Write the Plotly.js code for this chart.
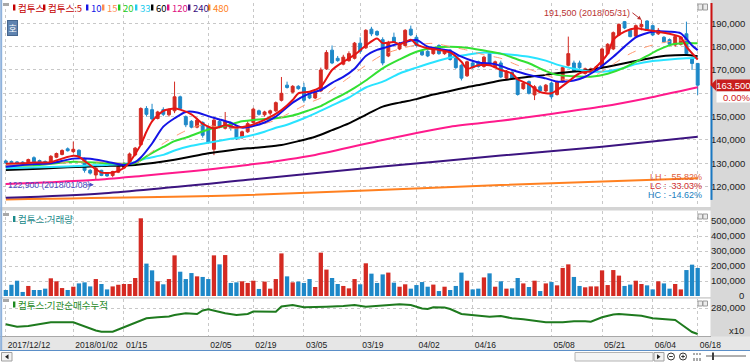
<!DOCTYPE html>
<html><head><meta charset="utf-8">
<script src="https://cdn.plot.ly/plotly-3.0.1.min.js"></script>
<style>html,body{margin:0;padding:0;background:#fff;overflow:hidden}#chart{width:750px;height:362px}</style>
</head><body><div id="chart"></div>
<script>
// ---------------- DATA ----------------
const dates = ['2017-12-12','2017-12-13','2017-12-14','2017-12-15','2017-12-18','2017-12-19','2017-12-20','2017-12-21','2017-12-22','2017-12-26','2017-12-27','2017-12-28',
'2018-01-02','2018-01-03','2018-01-04','2018-01-05','2018-01-08','2018-01-09','2018-01-10','2018-01-11','2018-01-12','2018-01-15','2018-01-16','2018-01-17','2018-01-18','2018-01-19','2018-01-22','2018-01-23','2018-01-24','2018-01-25','2018-01-26','2018-01-29','2018-01-30','2018-01-31',
'2018-02-01','2018-02-02','2018-02-05','2018-02-06','2018-02-07','2018-02-08','2018-02-09','2018-02-12','2018-02-13','2018-02-14','2018-02-19','2018-02-20','2018-02-21','2018-02-22','2018-02-23','2018-02-26','2018-02-27','2018-02-28',
'2018-03-02','2018-03-05','2018-03-06','2018-03-07','2018-03-08','2018-03-09','2018-03-12','2018-03-13','2018-03-14','2018-03-15','2018-03-16','2018-03-19','2018-03-20','2018-03-21','2018-03-22','2018-03-23','2018-03-26','2018-03-27','2018-03-28','2018-03-29','2018-03-30',
'2018-04-02','2018-04-03','2018-04-04','2018-04-05','2018-04-06','2018-04-09','2018-04-10','2018-04-11','2018-04-12','2018-04-13','2018-04-16','2018-04-17','2018-04-18','2018-04-19','2018-04-20','2018-04-23','2018-04-24','2018-04-25','2018-04-26','2018-04-27','2018-04-30',
'2018-05-02','2018-05-03','2018-05-04','2018-05-08','2018-05-09','2018-05-10','2018-05-11','2018-05-14','2018-05-15','2018-05-16','2018-05-17','2018-05-18','2018-05-21','2018-05-23','2018-05-24','2018-05-25','2018-05-28','2018-05-29','2018-05-30','2018-05-31',
'2018-06-01','2018-06-04','2018-06-05','2018-06-07','2018-06-08','2018-06-11','2018-06-12','2018-06-14','2018-06-15','2018-06-18'];

const openP = [131000,130800,130600,130500,130200,132400,131200,130800,130400,132600,
133800,136200,135000,135600,132000,127000,125000,127000,125800,124800,
126200,128000,129500,133600,138000,153500,153000,149200,153000,150800,
152500,158500,150000,148000,145500,147500,145500,136000,148000,145000,
147500,145500,141000,143500,147500,152500,150800,151500,152500,157000,
163500,160500,163000,162500,159500,158000,161000,170500,178500,175000,
172500,174000,175000,181500,179500,187500,186500,183000,176000,184000,
179000,180500,187500,184000,178000,178000,177000,180500,177000,178500,
175000,172000,167500,173000,173500,171500,177000,171400,173000,166500,
169000,166000,162000,165000,159300,162800,161000,164400,159500,165000,
172000,173000,173000,168500,169000,169300,171500,177000,179000,185000,
190700,187000,184500,188500,191000,189000,185500,184000,183000,180700,
181000,185500,175000,172800];
const highP = [131500,131200,131000,130900,132000,133000,131600,131200,133500,134600,
136000,136800,139300,136000,132400,127500,128500,127200,126000,126800,
128800,130500,134600,137000,154000,154500,155500,152500,154000,153500,
165000,159000,150500,148500,149500,148000,146000,149500,148500,152000,
148000,146000,144000,148000,153800,153000,152500,153000,156500,167000,
165000,163500,163500,164500,160000,161000,171000,178500,180500,176000,
176500,178000,182000,184000,187500,188500,187000,184000,182500,186000,
182000,187500,189000,185000,178500,178500,179500,181000,179000,179000,
175500,172500,174000,174000,174000,176000,178000,174000,174000,170000,
169500,166500,165000,165500,163500,163500,164000,165000,165500,171500,
184300,174000,174000,171000,171000,172000,179500,181500,186500,190000,
191000,187500,189500,191500,191300,189500,188000,184500,183500,185000,
184500,190700,175500,173000];
const lowP = [129800,129900,129600,129500,130000,130000,130200,129500,130200,132200,
133400,135000,134400,132500,126000,125200,122900,124500,124200,124000,
125800,127500,129000,133000,137500,150000,148500,148800,150200,150000,
151500,153000,145500,145000,145000,141000,138500,133500,145000,144500,
144000,140000,140500,143000,147000,150500,150000,150500,152000,156500,
162000,160000,161500,156000,157500,157500,160500,170000,172500,173500,
172000,173500,174500,177000,179000,184500,184500,172000,175500,181500,
178500,180000,184500,180000,176000,175500,176500,176500,176500,174000,
170500,165500,167000,170500,171000,171000,172000,171000,166500,166000,
166000,159000,161500,159500,157100,160500,160500,157500,159000,164500,
171500,169000,170500,168000,168500,169000,171000,176500,178500,184500,
187500,184000,184000,187000,187000,184500,185000,181500,180500,180000,
180500,176000,170000,159300];
const closeP = [130300,130200,130100,130000,131600,130600,130500,130000,133000,134200,
135500,135400,136000,133000,127000,125800,127800,124800,124600,126500,
128500,130000,134000,136500,153500,151000,149000,152000,151000,152800,
158500,153500,146500,145500,148500,142000,139000,148500,146000,148000,
145000,140500,143500,147000,153200,151000,152000,152500,156000,160000,
162500,163000,162000,157000,158000,160500,170000,177500,173000,174000,
175500,177000,181500,178000,187000,185500,185000,173000,181500,182000,
181000,187000,185000,180500,176500,176000,179000,177000,178500,174500,
171000,166500,173500,171000,171500,175500,172500,173500,167000,169500,
166500,159500,164300,160000,162800,161000,163500,158500,165000,171000,
177000,169300,171000,170500,170500,171400,179000,181000,186000,189500,
188000,184300,189000,189500,187500,185000,187000,182000,181000,184300,
184000,177000,172800,163500];
const volume = [40,75,102,27,67,40,40,49,118,98,
53,40,62,84,91,64,113,80,44,64,
75,80,80,120,518,216,171,98,78,113,
271,162,113,153,131,127,113,271,211,273,
87,91,98,87,102,47,96,49,113,284,
131,91,96,87,113,60,289,176,120,80,
67,51,113,78,218,149,87,
144,156,89,62,78,49,73,93,62,76,
33,62,40,67,156,102,44,49,124,151,
62,98,49,51,120,84,60,102,33,84,
93,71,187,211,127,67,58,64,64,171,
73,173,136,67,76,102,80,71,44,98,
84,49,80,44,173,209,187].map(v => v * 1000);

// moving averages (bar index -> value)
const ma5At = [0,3,5,8,10,12,13,14,16,17,19,21,22,23,24,25,26,28,30,31,33,35,37,39,41,43,46,49,51,52,54,56,58,60,62,64,66,67,69,70,72,73,75,77,79,81,82,84,86,88,90,91,93,95,97,98,100,102,104,105,107,108,110,112,114,116,118,120,121,123];
const ma5 = [129800,130000,130300,130500,132000,133200,132800,131000,127500,126000,126000,128000,130500,134000,138000,143500,148000,152500,153500,153000,151000,147000,145000,146300,145300,146000,148600,152800,157100,160000,160700,162800,170000,173500,176500,180500,183500,181500,182000,181000,183000,181000,179300,178600,177500,173500,170500,172000,172000,170000,168500,166000,163800,160500,160000,161400,165000,168600,169500,171400,177000,182900,186400,187900,187100,186400,185500,184000,180000,174500];
const ma10At = [0,4,8,12,15,18,21,23,24,26,28,30,32,34,36,38,40,42,44,46,48,51,54,56,58,60,62,64,66,68,71,73,75,77,79,81,84,87,90,93,96,98,101,103,105,108,110,112,115,118,120,122,123];
const ma10 = [128500,129500,130000,132000,132000,130700,129300,130500,132500,138500,145700,149300,152000,151800,150200,148800,147300,145300,146000,147500,150000,156000,160000,161400,164500,167000,170500,176000,178600,180000,182000,182800,180000,179000,178200,175700,173200,172500,170000,167900,166400,165000,165500,167100,170000,175700,180000,184000,186400,186400,185700,180500,178500];
const ma15At = [0,6,12,18,22,24,26,28,30,32,34,36,38,40,42,44,46,48,50,52,54,56,58,60,62,64,67,70,73,76,79,82,85,88,91,94,97,100,103,105,108,111,114,117,120,123];
const ma15 = [129000,129500,130500,130500,129800,131000,135000,138500,141500,144000,146000,146200,145500,145000,144800,145800,147000,148500,151000,153500,156000,158000,161500,165000,168500,172000,176500,179000,180700,181400,180000,178500,176500,175000,172000,169500,167000,165800,166800,168000,172500,177000,180000,181800,182800,182000];
const ma20At = [0,6,12,18,23,25,28,30,32,36,39,42,45,48,51,54,56,58,60,62,64,67,70,73,76,79,82,85,88,91,93,96,98,101,104,107,110,112,114,116,119,121,123];
const ma20 = [129000,129300,130700,130000,130000,133000,137000,139500,141000,144500,146000,148000,148800,149300,150500,152800,154500,157100,159500,162300,165500,170700,174500,177800,179500,180000,179500,178300,177000,174500,172900,169500,167900,167300,167100,168400,171000,173500,176000,178600,181200,181500,181400];
const ma33At = [0,8,14,18,22,25,28,30,33,36,40,43,46,48,50,53,55,58,61,64,67,70,73,76,79,82,85,88,91,93,96,98,101,104,107,109,112,115,118,121,123];
const ma33 = [127900,128400,129000,129300,130000,132100,133600,135500,137500,138800,140500,141600,143500,145200,146500,149300,151400,154800,158200,162500,165000,168500,171000,173300,175300,176500,177500,177000,176300,175700,174000,172300,170500,169300,169500,170300,172500,173800,174500,175000,175200];
const ma60At = [0,6,11,17,23,30,36,40,43,46,49,52,55,58,61,64,67,70,73,76,79,82,85,88,91,93,96,98,101,104,107,110,113,116,119,121,123];
const ma60 = [127100,127700,128300,128800,129300,131500,134300,135600,136400,137000,137800,139500,141400,144200,147100,150800,154300,156000,157500,159500,161000,162600,164000,165500,166500,167100,167900,168600,169300,170000,171400,172900,174300,175700,176300,176400,175900];
const ma120At = [0,8,16,24,32,43,55,67,79,88,96,106,114,123];
const ma120 = [121100,121900,122900,124600,126400,129300,133600,140000,145700,148200,150800,154300,157900,162600];
const ma240At = [0,17,43,67,88,106,123];
const ma240 = [115200,117100,122900,128600,133300,137100,141400];
const ma480At = [0,43,88,123];
const ma480 = [114500,116400,120700,123600];

// institutional cumulative net buying (x10)
const instAt = [0,2,4,6,8,12,14,16,17,19,21,23,24,25,27,29,30,32,34,35,36,37,39,41,43,44,46,48,49,51,53,55,57,60,62,64,66,68,70,72,74,75,76,78,79,81,83,85,86,88,90,92,94,96,99,101,103,104,106,108,109,111,113,115,117,119,120,121,122,123];
const inst = [225700,217700,220000,225700,232300,232300,217700,205000,201000,201000,215700,231700,238300,245700,249000,251700,256700,262300,260000,271700,275700,271000,262300,256700,260000,268300,268300,267700,285000,290000,282300,284300,284300,286700,290000,284300,287700,290000,292300,290000,278300,276700,282300,281700,276700,260000,256700,253300,251000,253300,245700,242300,238300,232300,232300,235700,235700,234300,249000,258300,260000,256700,254300,245700,242300,240000,226700,213300,200000,193300];

const tickDates = ['2017-12-12','2018-01-02','2018-01-15','2018-02-05','2018-02-19','2018-03-05','2018-03-19','2018-04-02','2018-04-16','2018-05-08','2018-05-21','2018-06-04','2018-06-18'];
const tickLabels = ['2017/12/12','2018/01/02','01/15','02/05','02/19','03/05','03/19','04/02','04/16','05/08','05/21','06/04','06/18'];
const priceTicks = [120000,130000,140000,150000,160000,170000,180000,190000];
const hiddenPriceTick = 160000; // covered by the current-price box in the reference
const volTicks = [100000,200000,300000,400000,500000];
const instTicks = [280000];
const lastPrice = 163500;
const hiLabel = '191,500 (2018/05/31)';
const loLabel = '122,900 (2018/01/08)';
const statLabels = ['LH :  55.82%','LC :  33.03%','HC : -14.62%'];

// ---------------- STYLE / LAYOUT ----------------
const RED = '#d42a22', BLUE = '#1e88c8';
const W = 750, H = 362, ML = 3, MR = 40, MT = 3, MB = 26;
const PW = W - ML - MR, PH = H - MT - MB;
const px = p => (p - ML) / PW;
const py = p => (H - MB - p) / PH;
const fmt = v => v.toLocaleString('en-US');
const NUMF = 'Liberation Sans';

const traces = [];
traces.push({type:'candlestick', x:dates, open:openP, high:highP, low:lowP, close:closeP,
  xaxis:'x', yaxis:'y', whiskerwidth:0, hoverinfo:'skip',
  increasing:{line:{color:RED,width:1}, fillcolor:RED},
  decreasing:{line:{color:BLUE,width:1}, fillcolor:BLUE}});
const maLine = (at, vals, color, width, dash) => ({type:'scatter', mode:'lines',
  x: at.map(i => dates[i]), y: vals, xaxis:'x', yaxis:'y', hoverinfo:'skip',
  line:{color, width, dash: dash || 'solid', shape:'spline', smoothing:0.7}});
traces.push(maLine(ma480At, ma480, '#ff8020', 2));
traces.push(maLine(ma240At, ma240, '#3c1480', 2));
traces.push(maLine(ma120At, ma120, '#ff1a8c', 2));
traces.push(maLine(ma60At, ma60, '#000000', 2));
traces.push(maLine(ma33At, ma33, '#29e3ff', 2));
traces.push(maLine(ma20At, ma20, '#33e033', 2));
traces.push(maLine(ma15At, ma15, '#ff9a70', 1, 'dash'));
traces.push(maLine(ma10At, ma10, '#1414e6', 2));
traces.push(maLine(ma5At, ma5, '#e61414', 2));
traces.push({type:'bar', x:dates, y:volume, xaxis:'x2', yaxis:'y2', width:0.76, hoverinfo:'skip',
  marker:{color: closeP.map((c,i) => c >= openP[i] ? RED : BLUE), line:{width:0}}});
traces.push({type:'scatter', mode:'lines', x: instAt.map(i => dates[i]), y: inst, xaxis:'x3', yaxis:'y3',
  hoverinfo:'skip', line:{color:'#1e7a1e', width:2}});

const xBase = {type:'category', categoryorder:'array', categoryarray:dates, range:[-0.5,125.19],
  tickvals:tickDates, showgrid:true, gridcolor:'#c8c8c8', griddash:'dot', gridwidth:1,
  zeroline:false, showline:false, ticks:'', fixedrange:true, rangeslider:{visible:false}};
const yBase = {side:'right', showgrid:true, gridcolor:'#c8c8c8', griddash:'dot', zeroline:false,
  showline:false, ticks:'', fixedrange:true, tickfont:{family:NUMF, size:9.5, color:'#222'}};

const F = 'Noto Sans CJK KR';
const shapes = [];
const annotations = [];
// right gray column and bottom date band
shapes.push({type:'rect', xref:'paper', yref:'paper', x0:px(710.5), x1:px(752), y0:py(351), y1:py(-2), fillcolor:'#d8d8d8', line:{width:0}, layer:'below'});
shapes.push({type:'rect', xref:'paper', yref:'paper', x0:px(-2), x1:px(752), y0:py(350), y1:py(336.5), fillcolor:'#e6e6e6', line:{width:0}, layer:'below'});
shapes.push({type:'line', xref:'paper', yref:'paper', x0:px(0), x1:px(711), y0:py(336.5), y1:py(336.5), line:{color:'#a8a8a8', width:1}});
shapes.push({type:'line', xref:'paper', yref:'paper', x0:px(-2), x1:px(752), y0:py(350.5), y1:py(350.5), line:{color:'#5b8fc8', width:1}});
// pane separators
shapes.push({type:'rect', xref:'paper', yref:'paper', x0:px(0), x1:px(711), y0:py(210.5), y1:py(207), fillcolor:'#d4d4d4', line:{width:0}});
shapes.push({type:'rect', xref:'paper', yref:'paper', x0:px(0), x1:px(711), y0:py(298.8), y1:py(297), fillcolor:'#d4d4d4', line:{width:0}});
// left border
shapes.push({type:'line', xref:'paper', yref:'paper', x0:px(1.2), x1:px(1.2), y0:py(350), y1:py(0), line:{color:'#8fb2dc', width:2}});
// current price marker line on the price axis
shapes.push({type:'line', xref:'paper', yref:'y', x0:px(711.5), x1:px(711.5), y0:lastPrice, y1:198700, line:{color:'#cc1111', width:2}});
shapes.push({type:'line', xref:'paper', yref:'y', x0:px(711.5), x1:px(711.5), y0:114300, y1:lastPrice, line:{color:'#1a78c2', width:2}});
shapes.push({type:'path', xref:'paper', yref:'y', path:`M ${px(710.5)},${lastPrice} L ${px(716)},${lastPrice+2400} L ${px(716)},${lastPrice-2400} Z`, fillcolor:'#c81e1e', line:{width:0}});
// small pane icons
[[3,216],[3,302]].forEach(([x,y]) => shapes.push({type:'rect', xref:'paper', yref:'paper', x0:px(x), x1:px(x+6), y0:py(y), y1:py(y-3), fillcolor:'#a8a8a8', line:{width:0}}));
shapes.push({type:'rect', xref:'paper', yref:'paper', x0:px(3), x1:px(9), y0:py(6), y1:py(3), fillcolor:'#a8a8a8', line:{width:0}});
[[4,10],[214,219],[301,306]].forEach(([a,b]) => {
  [698,703].forEach(x => shapes.push({type:'rect', xref:'paper', yref:'paper', x0:px(x), x1:px(x+4.5), y0:py(b), y1:py(a), fillcolor:'#ececec', line:{color:'#9a9a9a', width:1}}));
});
// scroll bar pieces
shapes.push({type:'rect', xref:'paper', yref:'paper', x0:px(1.5), x1:px(12), y0:py(361), y1:py(352.5), fillcolor:'#f2f2f2', line:{color:'#a0a0a0', width:1}});
shapes.push({type:'path', xref:'paper', yref:'paper', path:`M ${px(5)},${py(356.8)} L ${px(8.5)},${py(354.3)} L ${px(8.5)},${py(359.3)} Z`, fillcolor:'#222', line:{width:0}});
shapes.push({type:'rect', xref:'paper', yref:'paper', x0:px(575), x1:px(653), y0:py(361), y1:py(352.5), fillcolor:'#f4f4f4', line:{color:'#b4b4b4', width:1}});
shapes.push({type:'rect', xref:'paper', yref:'paper', x0:px(654), x1:px(664), y0:py(361), y1:py(352.5), fillcolor:'#f2f2f2', line:{color:'#a0a0a0', width:1}});
shapes.push({type:'path', xref:'paper', yref:'paper', path:`M ${px(660.5)},${py(356.8)} L ${px(657)},${py(354.3)} L ${px(657)},${py(359.3)} Z`, fillcolor:'#222', line:{width:0}});
// zoom icons (circles with -/+)
[[671,'-'],[683,'+']].forEach(([cx,s]) => {
  shapes.push({type:'circle', xref:'paper', yref:'paper', x0:px(cx-3.5), x1:px(cx+3.5), y0:py(360), y1:py(353), line:{color:'#333', width:1}});
  shapes.push({type:'line', xref:'paper', yref:'paper', x0:px(cx-1.8), x1:px(cx+1.8), y0:py(356.5), y1:py(356.5), line:{color:'#333', width:1}});
  if (s === '+') shapes.push({type:'line', xref:'paper', yref:'paper', x0:px(cx), x1:px(cx), y0:py(358.3), y1:py(354.7), line:{color:'#333', width:1}});
});
[694,697,700].forEach(x => shapes.push({type:'line', xref:'paper', yref:'paper', x0:px(x), x1:px(x), y0:py(361), y1:py(353), line:{color:'#555', width:1, dash:'dot'}}));
shapes.push({type:'line', xref:'paper', yref:'paper', x0:px(706), x1:px(746), y0:py(356), y1:py(356), line:{color:'#606060', width:1}});
shapes.push({type:'line', xref:'paper', yref:'paper', x0:px(713), x1:px(713), y0:py(360), y1:py(352.5), line:{color:'#404040', width:2}});

// top legend
const legendItems = [
  {t:'컴투스', c:'#c40000', x:13}, {t:'컴투스:5', c:'#c40000', x:43}, {t:'10', c:'#1414e6', x:86},
  {t:'15', c:'#ff8a50', x:102}, {t:'20', c:'#22cc22', x:118}, {t:'33', c:'#22ccee', x:135},
  {t:'60', c:'#000000', x:151}, {t:'120', c:'#e0107f', x:167}, {t:'240', c:'#3c1480', x:188}, {t:'480', c:'#ff8020', x:208}];
legendItems.forEach(it => {
  shapes.push({type:'rect', xref:'paper', yref:'paper', x0:px(it.x), x1:px(it.x+2.4), y0:py(10.5), y1:py(4.5), fillcolor:it.c, line:{width:0}});
  annotations.push({xref:'paper', yref:'paper', x:px(it.x+3.2), y:py(7.6), xanchor:'left', yanchor:'middle', text:it.t, showarrow:false, font:{family:F, size:9.5, color:it.c}});
});
annotations.push({xref:'paper', yref:'paper', x:px(7.3), y:py(19.8), text:'호', showarrow:false, bgcolor:'#5f83b0', bordercolor:'#45668f', borderwidth:1, borderpad:0.5, font:{family:F, size:9, color:'#ffffff'}});
// pane titles
shapes.push({type:'rect', xref:'paper', yref:'paper', x0:px(13), x1:px(15.4), y0:py(222), y1:py(216), fillcolor:'#1a8a8a', line:{width:0}});
annotations.push({xref:'paper', yref:'paper', x:px(16.2), y:py(219), xanchor:'left', yanchor:'middle', text:'컴투스:거래량', showarrow:false, font:{family:F, size:9.5, color:'#1a8a8a'}});
shapes.push({type:'rect', xref:'paper', yref:'paper', x0:px(13), x1:px(15.4), y0:py(307.5), y1:py(301.5), fillcolor:'#1e8a1e', line:{width:0}});
annotations.push({xref:'paper', yref:'paper', x:px(16.2), y:py(304.5), xanchor:'left', yanchor:'middle', text:'컴투스:기관순매수누적', showarrow:false, font:{family:F, size:9.5, color:'#1e8a1e'}});

// high / low markers
annotations.push({x:dates[113], y:191500, xref:'x', yref:'y', text:hiLabel, showarrow:true, ax:-9, ay:-7, xanchor:'right', yanchor:'middle',
  arrowhead:2, arrowsize:0.8, arrowwidth:1, arrowcolor:'#b83232', font:{family:NUMF, size:9, color:'#b83232'}});
annotations.push({xref:'paper', yref:'paper', x:px(6), y:py(184.5), xanchor:'left', yanchor:'middle', text:loLabel, showarrow:false,
  font:{family:NUMF, size:8.6, color:'#4b4bc3'}});
annotations.push({x:dates[16], y:122900, xref:'x', yref:'y', text:'', showarrow:true, ax:-9, ay:0, yshift:-5, xshift:-2,
  arrowhead:2, arrowsize:0.8, arrowwidth:1, arrowcolor:'#4b4bc3'});
// LH / LC / HC
const statColors = ['#e0603a','#d03030','#2080c0'];
[177,186,195].forEach((y,k) => annotations.push({xref:'paper', yref:'paper', x:px(704), y:py(y), xanchor:'right', yanchor:'middle', text:statLabels[k], showarrow:false, font:{family:NUMF, size:9, color:statColors[k]}}));
// current price boxes
annotations.push({xref:'paper', yref:'y', x:px(715.5), y:lastPrice, xanchor:'left', yanchor:'middle', text:fmt(lastPrice), showarrow:false, width:33.5, height:10.5, align:'right', bgcolor:'#c81e1e', borderpad:0, font:{family:NUMF, size:9.5, color:'#ffffff'}});
annotations.push({xref:'paper', yref:'y', x:px(715.5), y:lastPrice, yshift:-11.5, xanchor:'left', yanchor:'middle', text:'0.00%', showarrow:false, width:33.5, height:10, align:'right', bgcolor:'#ffffff', borderpad:0, font:{family:NUMF, size:9.5, color:'#d02020'}});
// volume zero label and indicator unit
annotations.push({xref:'paper', yref:'paper', x:px(746), y:py(295), xanchor:'right', yanchor:'middle', text:'0', showarrow:false, font:{family:NUMF, size:9.5, color:'#222'}});
annotations.push({xref:'paper', yref:'paper', x:px(746), y:py(330), xanchor:'right', yanchor:'middle', text:'x10', showarrow:false, font:{family:NUMF, size:9.5, color:'#222'}});

const layout = {
  width:W, height:H, margin:{l:ML, r:MR, t:MT, b:MB, pad:0}, paper_bgcolor:'#ffffff', plot_bgcolor:'#ffffff',
  showlegend:false, hovermode:false, dragmode:false, boxgap:0.26,
  xaxis: Object.assign({}, xBase, {anchor:'y', showticklabels:false}),
  xaxis2: Object.assign({}, xBase, {anchor:'y2', matches:'x', showticklabels:false}),
  xaxis3: Object.assign({}, xBase, {anchor:'y3', matches:'x', showticklabels:true, ticktext:tickLabels,
    ticklabelposition:'outside right', ticklabelshift:2, ticklabelstandoff:2, tickfont:{family:NUMF, size:8.5, color:'#222'}}),
  yaxis: Object.assign({}, yBase, {anchor:'x', domain:[py(206), 1], range:[111700,198700], tickvals:priceTicks,
    ticktext:priceTicks.map(v => v === hiddenPriceTick ? '' : fmt(v))}),
  yaxis2: Object.assign({}, yBase, {anchor:'x2', domain:[py(296), py(211)], range:[0,566700], tickvals:volTicks, ticktext:volTicks.map(fmt)}),
  yaxis3: Object.assign({}, yBase, {anchor:'x3', domain:[0, py(299)], range:[186700,310000], tickvals:instTicks, ticktext:instTicks.map(fmt)}),
  shapes, annotations
};
Plotly.newPlot('chart', traces, layout, {staticPlot:true, displayModeBar:false});
</script></body></html>
